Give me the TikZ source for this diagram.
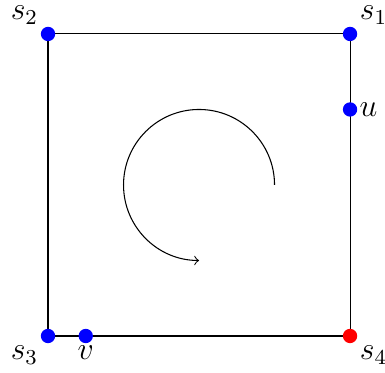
\documentclass[tikz,border=0pt]{standalone}
\begin{document}
\begin{tikzpicture}
\tikzset{
  dot/.style={circle,fill=#1,inner sep=0pt,minimum size=0.19cm},
  dot/.default=blue,
  every label/.style={font=\large,inner sep=1.5pt}
}
\useasboundingbox (-0.636,-0.477) rectangle (4.463,4.450);
\coordinate (c3) at (0,0);
\coordinate (c4) at (4,0);
\coordinate (c1) at (4,4);
\coordinate (c2) at (0,4);
\draw (c3) -- (c4) -- (c1) -- (c2) -- cycle;
\node[dot,label={above left:$s_2$}] (s2) at (c2) {};
\node[dot,label={above right:$s_1$}] (s1) at (c1) {};
\node[dot,label={below left:$s_3$}] (s3) at (c3) {};
\node[dot=red,label={below right:$s_4$}] (s4) at (c4) {};
\node[dot,label={[inner sep=0.5pt]right:$u$}] (u) at (4,3) {};
\node[dot,label={[inner sep=0.5pt]below:$v$}] (v) at (0.5,0) {};
\coordinate (as) at (3,2);
\draw[->] (as) arc[start angle=0,end angle=270,radius=1];
\end{tikzpicture}
\end{document}
